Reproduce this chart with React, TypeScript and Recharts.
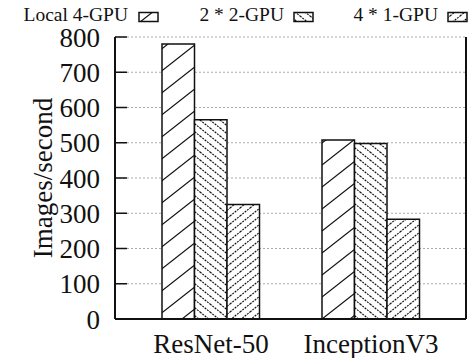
import React from "react";
import { BarChart, Bar, XAxis, YAxis, CartesianGrid } from "recharts";

const categories = ["ResNet-50", "InceptionV3"];
const local4Gpu = [780, 508];
const twoByTwoGpu = [565, 498];
const fourByOneGpu = [325, 283];
const yTicks = [0, 100, 200, 300, 400, 500, 600, 700, 800];

const series = [
  { key: "local4", name: "Local 4-GPU", values: local4Gpu, pattern: "pat-local" },
  { key: "two2", name: "2 * 2-GPU", values: twoByTwoGpu, pattern: "pat-two" },
  { key: "four1", name: "4 * 1-GPU", values: fourByOneGpu, pattern: "pat-four" },
];

const data = categories.map((c, i) => {
  const row: any = { name: c };
  series.forEach((s) => (row[s.key] = s.values[i]));
  return row;
});

const FONT = "Liberation Serif";

// legend placement: text right edge and swatch left edge
const legendSlots = [
  { textEnd: 128, box: 139 },
  { textEnd: 284, box: 294 },
  { textEnd: 438, box: 448 },
];

function Patterns() {
  return (
    <defs>
      <pattern id="pat-local" patternUnits="userSpaceOnUse" width="28" height="22">
        <rect width="28" height="22" fill="#fff" />
        <path d="M0,22 L28,0 M-4,3.1 L4,-3.1 M24,25.1 L32,18.9" stroke="#111" strokeWidth="1.2" />
      </pattern>
      <pattern id="pat-two" patternUnits="userSpaceOnUse" width="10" height="8">
        <rect width="10" height="8" fill="#fff" />
        <path d="M0,0 L10,8 M-5,4 L5,12 M5,-4 L15,4" stroke="#111" strokeWidth="1.2" strokeDasharray="2 1" />
      </pattern>
      <pattern id="pat-four" patternUnits="userSpaceOnUse" width="10" height="8">
        <rect width="10" height="8" fill="#fff" />
        <path d="M0,8 L10,0 M-5,4 L5,-4 M5,12 L15,4" stroke="#111" strokeWidth="1.2" strokeDasharray="2 1" />
      </pattern>
    </defs>
  );
}

export default function App() {
  return (
    <div style={{ position: "absolute", left: 0, top: 0, width: 474, height: 358, background: "#fff" }}>
      <svg width={474} height={28} style={{ position: "absolute", left: 0, top: 0, zIndex: 2 }}>
        <Patterns />
        {series.map((s, i) => (
          <g key={s.key}>
            <text
              x={legendSlots[i].textEnd}
              y={21}
              textAnchor="end"
              fontFamily={FONT}
              fontSize={19.5}
              fill="#111"
            >
              {s.name}
            </text>
            <rect
              x={legendSlots[i].box}
              y={12.5}
              width={19}
              height={9}
              fill={`url(#${s.pattern})`}
              stroke="#111"
              strokeWidth={1.5}
            />
          </g>
        ))}
      </svg>
      <BarChart
        width={474}
        height={358}
        data={data}
        margin={{ top: 37, right: 0, bottom: 0, left: 0 }}
        barGap={0}
        barSize={32.5}
      >
        <CartesianGrid vertical={false} stroke="#aaa" strokeDasharray="2 2" yAxisId="left" />
        <XAxis
          dataKey="name"
          height={39}
          padding={{ left: 16, right: 15 }}
          axisLine={{ stroke: "#111", strokeWidth: 2 }}
          tickLine={false}
          tickSize={0}
          tickMargin={15}
          tick={{ fontFamily: FONT, fontSize: 27, fill: "#111" }}
        />
        <XAxis
          xAxisId="top"
          dataKey="name"
          orientation="top"
          height={0}
          axisLine={{ stroke: "#111", strokeWidth: 2 }}
          tickLine={false}
          tick={false}
        />
        <YAxis
          yAxisId="left"
          width={115}
          domain={[0, 800]}
          ticks={yTicks}
          interval={0}
          axisLine={{ stroke: "#111", strokeWidth: 2 }}
          tickLine={{ stroke: "#111", strokeWidth: 1.5 }}
          tickSize={-12}
          tickMargin={27}
          tick={{ fontFamily: FONT, fontSize: 27, fill: "#111" }}
          label={{
            value: "Images/second",
            angle: -90,
            position: "insideLeft",
            offset: 42,
            textAnchor: "middle",
            style: { fontFamily: FONT, fontSize: 27, fill: "#111", textAnchor: "middle" },
          }}
        />
        <YAxis
          yAxisId="right"
          orientation="right"
          width={8}
          domain={[0, 800]}
          ticks={yTicks}
          interval={0}
          axisLine={{ stroke: "#111", strokeWidth: 2 }}
          tickLine={{ stroke: "#111", strokeWidth: 1.5 }}
          tickSize={-12}
          tick={false}
        />
        {series.map((s) => (
          <Bar
            key={s.key}
            dataKey={s.key}
            name={s.name}
            yAxisId="left"
            fill={`url(#${s.pattern})`}
            stroke="#111"
            strokeWidth={1.5}
            isAnimationActive={false}
          />
        ))}
      </BarChart>
    </div>
  );
}
